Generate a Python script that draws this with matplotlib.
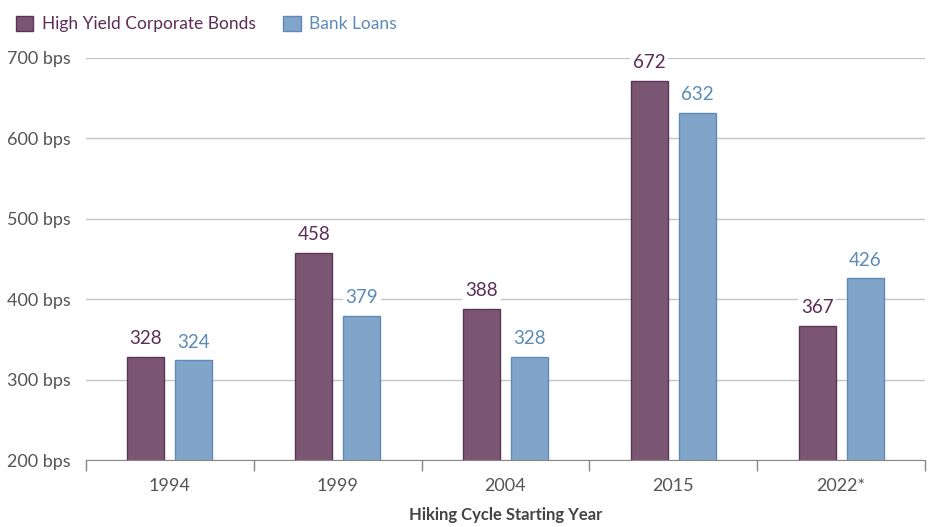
import matplotlib
matplotlib.use("Agg")
import matplotlib.pyplot as plt
import numpy as np
from matplotlib.patches import Patch

# data
years = ["1994", "1999", "2004", "2015", "2022*"]
high_yield = [328, 458, 388, 672, 367]
bank_loans = [324, 379, 328, 632, 426]
y_ticks = [200, 300, 400, 500, 600, 700]

hy_fill, hy_edge, hy_text = "#7b5673", "#5a3656", "#5b2d55"
bl_fill, bl_edge, bl_text = "#80a5c8", "#5f8ab7", "#5b8ab8"
grey = "#555555"

plt.rcParams['font.family'] = ['Lato', 'DejaVu Sans']

fig = plt.figure(figsize=(9.31, 5.27), dpi=100)
ax = fig.add_axes([86 / 931, 67 / 527, 839 / 931, 402 / 527])

x = np.arange(len(years))
width = 0.22
off = 0.143

ax.bar(x - off, high_yield, width, bottom=0, color=hy_fill, edgecolor=hy_edge, linewidth=1, zorder=3)
ax.bar(x + off, bank_loans, width, bottom=0, color=bl_fill, edgecolor=bl_edge, linewidth=1, zorder=3)

# value labels, white box hides the gridline behind them
for xi, v in zip(x - off, high_yield):
    ax.text(xi, v + 12, str(v), ha="center", va="bottom", fontsize=13.5, color=hy_text, zorder=4, clip_on=False,
            bbox=dict(facecolor="white", edgecolor="none", pad=2))
for xi, v in zip(x + off, bank_loans):
    ax.text(xi, v + 12, str(v), ha="center", va="bottom", fontsize=13.5, color=bl_text, zorder=4, clip_on=False,
            bbox=dict(facecolor="white", edgecolor="none", pad=2))

ax.set_xlim(-0.5, len(years) - 0.5)
ax.set_ylim(200, 700)
ax.set_yticks(y_ticks)
ax.set_yticklabels([f"{t} bps" for t in y_ticks], fontsize=13, color=grey)
ax.yaxis.grid(True, color="#c4c4c4", linewidth=1, zorder=1)
ax.tick_params(axis="y", length=0, pad=11)

# category labels in the middle, tick marks at the boundaries
ax.set_xticks(x)
ax.set_xticklabels(years, fontsize=13, color=grey)
ax.tick_params(axis="x", which="major", length=0, pad=13)
ax.set_xticks(np.arange(-0.5, len(years), 1), minor=True)
ax.tick_params(axis="x", which="minor", length=8, color="#888888", width=1)

for s in ["top", "right", "left"]:
    ax.spines[s].set_visible(False)
ax.spines["bottom"].set_color("#888888")
ax.spines["bottom"].set_zorder(5)

ax.set_xlabel("Hiking Cycle Starting Year", fontsize=12, fontweight="bold", color="#444444", labelpad=9)

handles = [Patch(facecolor=hy_fill, edgecolor=hy_edge), Patch(facecolor=bl_fill, edgecolor=bl_edge)]
leg = fig.legend(handles, ["High Yield Corporate Bonds", "Bank Loans"], loc="upper left",
                 bbox_to_anchor=(0.0, 1.0), ncol=2, frameon=False, fontsize=12.5,
                 handlelength=1.0, handleheight=1.0, handletextpad=0.5, columnspacing=1.6)
for t, c in zip(leg.get_texts(), [hy_text, bl_text]):
    t.set_color(c)

fig.savefig("out.png", dpi=100)
